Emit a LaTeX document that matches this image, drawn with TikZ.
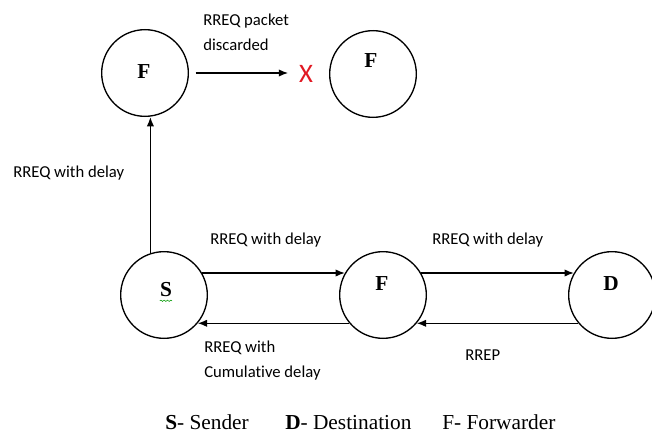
\documentclass[tikz,border=0pt]{standalone}
\usepackage{fontspec}
\setmainfont{Liberation Serif}
\newfontfamily\labelfont[Ligatures=NoCommon]{Carlito}
\usetikzlibrary{decorations.pathmorphing,arrows.meta}
\definecolor{crossred}{RGB}{225,25,35}

\begin{document}
\begin{tikzpicture}[x=0.75pt,y=-0.75pt,
	station/.style={draw=black,circle,line width=1pt,minimum size=65pt,inner sep=0pt},
	letter/.style={font=\fontsize{16}{18}\selectfont\bfseries,inner sep=0pt},
	msg/.style={font=\labelfont\fontsize{12.5}{18.75}\selectfont,anchor=west,align=left,inner sep=0pt},
	legend/.style={font=\fontsize{16}{19}\selectfont,anchor=base west,inner sep=0pt},
	link/.style={-{Latex[length=7pt,width=5.5pt]},draw=black,line width=1pt}]

	\useasboundingbox (0,0) rectangle (652,432);
	\clip (0,0) rectangle (652,432);

	% stations
	\node[station] (f1) at (145,73) {};
	\node[station] (f2) at (373,74) {};
	\node[station] (s) at (164,295) {};
	\node[station] (f3) at (383,295) {};
	\node[station] (d) at (612,295) {};

	\node[letter] (f1l) at (144,72) {F};
	\node[letter] (f2l) at (371,61) {F};
	\node[letter] (sl) at (166,290) {S};
	\node[letter] (f3l) at (382,284) {F};
	\node[letter] (dl) at (611,284) {D};
	\draw[green!60!black,decorate,decoration={snake,amplitude=0.5pt,segment length=2.5pt}]
		([yshift=-2.5pt]sl.south west) -- ([yshift=-2.5pt]sl.south east);

	\node[font=\labelfont\fontsize{20}{24}\selectfont,text=crossred,inner sep=0pt] (x) at (306,74) {X};

	% messages
	\path[link] ([xshift=5pt]f1.east) -- ([xshift=-8pt]f1.east -| x.west);
	\path[link] (s.108) -- (s.108 |- f1.south);
	\path[link] (s.30) -- (f3.150);
	\path[link] (f3.220) -- (s.-40);
	\path[link] (f3.30) -- (d.150);
	\path[link] (d.220) -- (f3.-40);

	\node[msg] (discard) at (203,32) {RREQ packet\\discarded};
	\node[msg] (up) at (13,173) {RREQ with delay};
	\node[msg] (sf) at (210,240) {RREQ with delay};
	\node[msg] (fs) at (204,361) {RREQ with\\Cumulative delay};
	\node[msg] (fd) at (432,240) {RREQ with delay};
	\node[msg] (df) at (465,355) {RREP};

	% legend
	\node[legend] (ls) at (165,429) {\textbf{S}- Sender};
	\node[legend] (ld) at (285,429) {\textbf{D}- Destination};
	\node[legend] (lf) at (442,429) {F- Forwarder};

\end{tikzpicture}
\end{document}
